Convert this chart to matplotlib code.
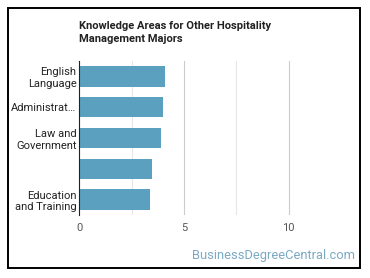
import matplotlib
matplotlib.use('Agg')
import matplotlib.pyplot as plt
from matplotlib.patches import Rectangle

# 数据
categories = ['English\nLanguage', 'Administrat…', 'Law and\nGovernment', '', 'Education\nand Training']
values = [4.11, 4.01, 3.92, 3.49, 3.39]
tick_values = [0, 5, 10]
tick_labels = ['0', '5', '10']

plt.rcParams['font.family'] = ['Roboto', 'DejaVu Sans']

fig = plt.figure(figsize=(3.7, 2.78), dpi=100)
ax = fig.add_axes([0.2143, 0.2266, 0.707, 0.554])

ypos = list(range(len(categories)))
ax.barh(ypos, values, height=0.66, color='#5ba1bf', zorder=3)
ax.set_ylim(len(categories) - 0.5, -0.5)
ax.set_yticks(ypos)
ax.set_yticklabels(categories, fontsize=8, color='#222222', linespacing=1.2)
ax.set_xlim(0, 12.5)
ax.set_xticks(tick_values)
ax.set_xticklabels(tick_labels, fontsize=8, color='#555555')
ax.set_xticks([2.5, 7.5], minor=True)
ax.tick_params(axis='both', which='both', length=0)
ax.tick_params(axis='y', pad=2)
ax.tick_params(axis='x', pad=6)
ax.grid(True, axis='x', which='major', color='#cccccc', lw=0.8, zorder=0)
ax.grid(True, axis='x', which='minor', color='#e6e6e6', lw=0.8, zorder=0)
for s in ['top', 'right', 'bottom']:
    ax.spines[s].set_visible(False)
ax.spines['left'].set_color('#222222')
ax.spines['left'].set_linewidth(0.8)
ax.spines['left'].set_zorder(4)

# 标题
fig.text(0.214, 1 - 21 / 278, 'Knowledge Areas for Other Hospitality\nManagement Majors',
         fontsize=8, fontweight='bold', color='#222222', va='top', ha='left', linespacing=1.35)

# 水印
fig.text(355 / 370, 1 - 255 / 278, 'BusinessDegreeCentral.com', fontsize=9.3,
         color='#7aa9c4', ha='right', va='center')

# 边框
fig.patches.append(Rectangle((7.5 / 370, 1 - 268 / 278), 352 / 370, 260 / 278,
                             transform=fig.transFigure, fill=False, ec='black', lw=1.4))

fig.savefig('out.png', dpi=100)
